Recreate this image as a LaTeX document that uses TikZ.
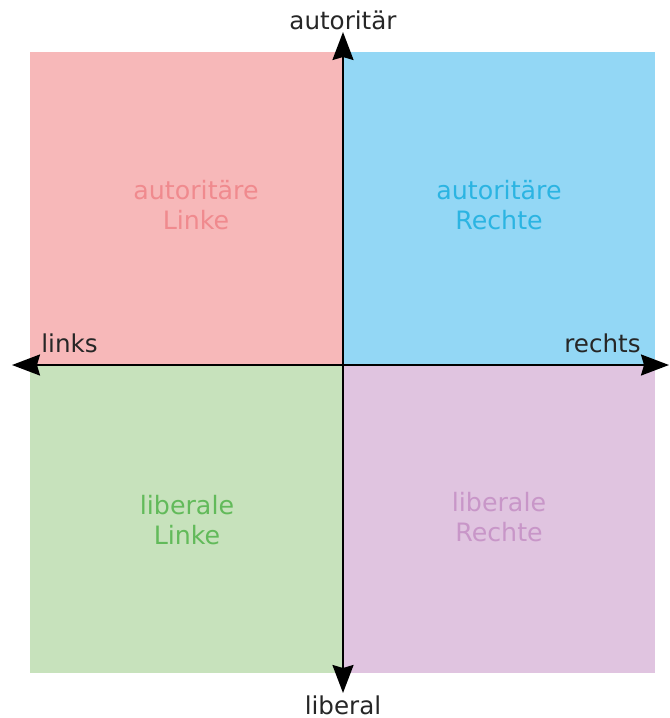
\documentclass[tikz,border=0pt]{standalone}
\usepackage{fontspec}
\setmainfont{DejaVu Sans}
\usetikzlibrary{arrows.meta,positioning,calc}
\definecolor{alfill}{HTML}{F7B8B9}
\definecolor{arfill}{HTML}{93D7F5}
\definecolor{llfill}{HTML}{C7E2BC}
\definecolor{lrfill}{HTML}{E0C4E0}
\definecolor{altext}{HTML}{F08A8E}
\definecolor{artext}{HTML}{2BB4E2}
\definecolor{lltext}{HTML}{62BA5A}
\definecolor{lrtext}{HTML}{C896C8}

\begin{document}
\begin{tikzpicture}[x=0.02cm, y=-0.02cm,
  axis/.style={line width=1.2pt, black, {Stealth[length=0.56cm, width=0.42cm, inset=0.06cm]}-{Stealth[length=0.56cm, width=0.42cm, inset=0.06cm]}},
  axlabel/.style={font=\fontsize{14}{16}\selectfont, text=black!85, inner sep=0pt},
  qlabel/.style={font=\fontsize{14.4}{17.2}\selectfont, align=center, inner sep=0pt}
]
  \useasboundingbox (0,0) rectangle (670,718);

  % Quadrants
  \fill[alfill] (30,52) rectangle (343,364);
  \fill[arfill] (343,52) rectangle (655,364);
  \fill[llfill] (30,364) rectangle (343,673);
  \fill[lrfill] (343,364) rectangle (655,673);

  % Quadrant labels
  \node[qlabel, text=altext] (al) at (196,205) {autoritäre\\Linke};
  \node[qlabel, text=artext] (ar) at (499,205) {autoritäre\\Rechte};
  \node[qlabel, text=lltext] (ll) at (187,520) {liberale\\Linke};
  \node[qlabel, text=lrtext] (lr) at (499,517) {liberale\\Rechte};

  % Axes
  \coordinate (W) at (12,365);
  \coordinate (E) at (669,365);
  \coordinate (N) at (343,32);
  \coordinate (S) at (343,693);
  \draw[axis] (W) -- (E);
  \draw[axis] (S) -- (N);

  % Axis labels
  \node[axlabel] (top) at (343,20) {autoritär};
  \node[axlabel, anchor=base] (bottom) at (343,714) {liberal};
  \node[axlabel, anchor=base west] (left) at (41,352) {links};
  \node[axlabel, anchor=base east] (right) at (641,352) {rechts};
\end{tikzpicture}
\end{document}
